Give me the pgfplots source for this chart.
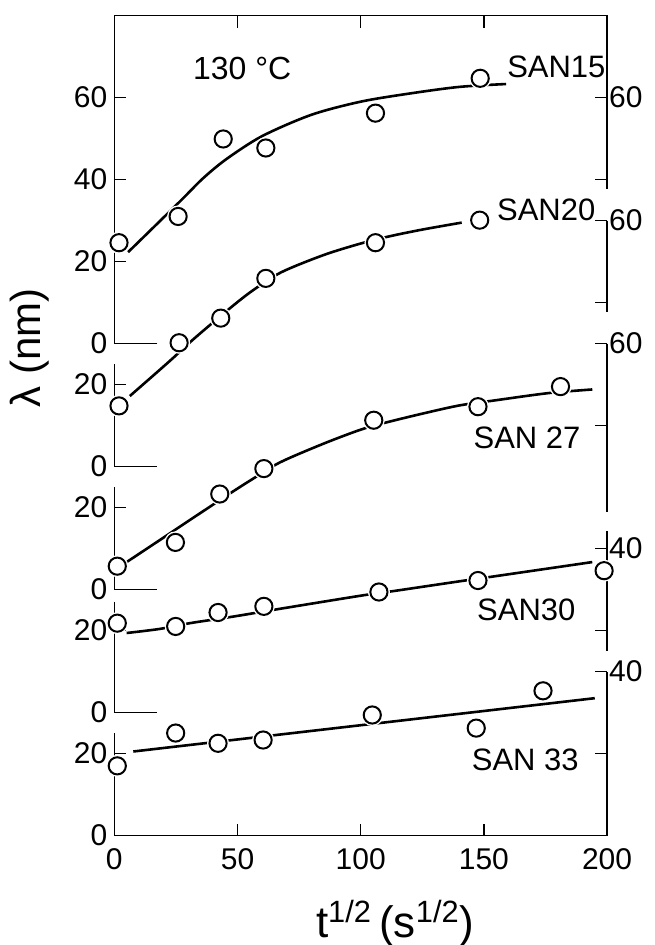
\documentclass[border=0pt]{standalone}
\usepackage{fontspec}
\setmainfont{Liberation Sans}
\usepackage{pgfplots}
\usepackage{pgfplotstable}
\pgfplotsset{compat=1.18}

% every series sits on its own offset scale: SAN15 +120, SAN20 +90, SAN27 +60, SAN30 +30, SAN33 +0
\pgfplotsset{
  frame/.style={
    width=246.6pt, height=410.35pt, scale only axis,
    xmin=0, xmax=200, ymin=0, ymax=200,
    clip=false,
    axis line style={draw=none},
    major tick length=6pt,
    every tick/.style={black, line width=0.8pt},
    tick label style={font=\fontsize{15}{15}\selectfont},
    /pgf/number format/assume math mode=true,
  },
  fit/.style={black, line width=1.3pt, smooth, no marks},
  halo/.style={white, only marks, mark=*, mark size=5.3pt, mark options={white}},
  pts/.style={black, only marks, mark=*, mark size=4.3pt, mark options={draw=black, fill=white, line width=1pt}},
}
\tikzset{
  spine/.style={black, line width=0.8pt},
  tag/.style={font=\fontsize{15.5}{15.5}\selectfont},
}

% measured points
\pgfplotstableread{
t l
1.9 24.6
25.9 31.0
44.2 49.9
61.5 47.7
106 56.2
148.5 64.7
}\sanA
\pgfplotstableread{
t l
1.9 14.8
26.3 30.2
43.2 36.2
61.5 45.9
106 54.6
148.3 60.1
}\sanB
\pgfplotstableread{
t l
1.2 5.7
24.8 11.5
42.8 23.3
60.7 29.5
105.3 41.3
147.6 44.6
181.1 49.5
}\sanC
\pgfplotstableread{
t l
1.2 21.8
24.9 21
42.1 24.4
60.7 25.9
107.4 29.4
147.6 32.2
198.8 34.6
}\sanD
\pgfplotstableread{
t l
1.2 17
24.9 25
42.1 22.5
60.4 23.3
104.7 29.4
146.9 26.2
174 35.3
}\sanE

\begin{document}
\begin{tikzpicture}
\begin{axis}[frame,
  xtick={0,50,100,150,200}, xtick pos=both,
  xticklabel style={yshift=-3pt},
  ytick={0,20,30,50,60,80,90,110,120,140,160,180},
  yticklabels={0,20,0,20,0,20,0,20,0,20,40,60},
  ytick pos=left,
]
% broken spines
\draw[spine] (axis cs:0,0) -- (axis cs:200,0) -- (axis cs:200,40);
\draw[spine] (axis cs:0,0) -- (axis cs:0,25);
\draw[spine] (axis cs:0,57) -- (axis cs:0,30) -- (axis cs:17.5,30);
\draw[spine] (axis cs:0,85) -- (axis cs:0,60) -- (axis cs:17.5,60);
\draw[spine] (axis cs:0,115) -- (axis cs:0,90) -- (axis cs:17.5,90);
\draw[spine] (axis cs:17.5,120) -- (axis cs:0,120) -- (axis cs:0,200) -- (axis cs:200,200) -- (axis cs:200,157.6);
\draw[spine] (axis cs:200,150) -- (axis cs:200,127.8);
\draw[spine] (axis cs:200,120) -- (axis cs:200,79);
\draw[spine] (axis cs:200,74.2) -- (axis cs:200,44.9);

% SAN15
\addplot[fit] table[x=t, y expr=\thisrow{l}+120] {
t l
5.6 22.3
16 28.4
27.7 35.3
36 40.3
45.5 45.0
60 50.6
80 55.8
100 59.0
120 61.0
140 62.6
159 63.3
};
% SAN20
\addplot[fit] table[x=t, y expr=\thisrow{l}+90] {
t l
6.3 17.2
22.6 25.8
32 31
46.9 38.6
56.3 43.0
67.8 47.4
85 51.6
100 54.4
112 56.2
125 57.8
141 59.5
};
% SAN27
\addplot[fit] table[x=t, y expr=\thisrow{l}+60] {
t l
5 6.7
19.8 12.6
29 16.3
38.8 20.2
47.6 23.7
55.7 26.8
67.2 31
85 35.6
100 39
110 40.7
125 42.9
140 44.9
154 46.1
176 47.9
194 48.8
};
% SAN30
\addplot[fit] table[x=t, y expr=\thisrow{l}+30] {
t l
5 19.4
18.5 20.4
30.7 21.8
48.2 23.4
67.2 25.3
100 28.5
113 29.6
140 32
154 33.2
194 36.7
};
% SAN33
\addplot[fit, sharp plot] table[x=t, y=l] {
t l
7.7 20.5
195 33.5
};

\addplot[halo] table[x=t, y expr=\thisrow{l}+120] {\sanA};
\addplot[halo] table[x=t, y expr=\thisrow{l}+90] {\sanB};
\addplot[halo] table[x=t, y expr=\thisrow{l}+60] {\sanC};
\addplot[halo] table[x=t, y expr=\thisrow{l}+30] {\sanD};
\addplot[halo] table[x=t, y=l] {\sanE};
\addplot[pts] table[x=t, y expr=\thisrow{l}+120] {\sanA};
\addplot[pts] table[x=t, y expr=\thisrow{l}+90] {\sanB};
\addplot[pts] table[x=t, y expr=\thisrow{l}+60] {\sanC};
\addplot[pts] table[x=t, y expr=\thisrow{l}+30] {\sanD};
\addplot[pts] table[x=t, y=l] {\sanE};

\node[tag] at (axis cs:179.4,187.6) {SAN15};
\node[tag] at (axis cs:175.3,152.7) {SAN20};
\node[tag] at (axis cs:167.5,97) {SAN 27};
\node[tag] at (axis cs:167.2,55.1) {SAN30};
\node[tag] at (axis cs:166.8,18.5) {SAN 33};
\node[font=\fontsize{16}{16}\selectfont] at (axis cs:51.9,187.2) {130 °C};
\node[rotate=90, font=\fontsize{21}{21}\selectfont] at (axis cs:-34.2,119) {λ (nm)};
\node[anchor=base, font=\fontsize{22}{22}\selectfont] at (axis cs:114,-24.9) {t\textsuperscript{1/2}\,(s\textsuperscript{1/2})};

\coordinate (bbsw) at (axis cs:-46.4,-26.7);
\coordinate (bbne) at (axis cs:219.2,203.8);
\end{axis}

\begin{axis}[frame,
  xtick=\empty,
  ytick={20,40,50,70,100,120,130,150,160,180},
  yticklabels={,40,,40,,60,,60,,60},
  ytick pos=right, yticklabel pos=right,
  yticklabel style={xshift=-2.5pt},
]
\end{axis}
\pgfresetboundingbox
\path[use as bounding box] (bbsw) rectangle (bbne);
\end{tikzpicture}
\end{document}
